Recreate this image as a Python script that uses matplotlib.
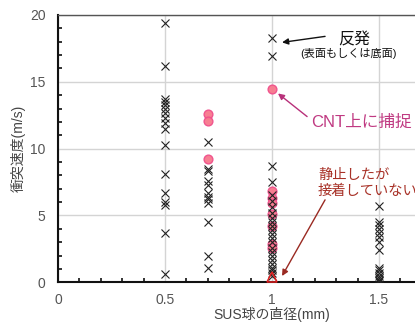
import matplotlib
matplotlib.use("Agg")
import matplotlib.pyplot as plt
from matplotlib.ticker import MultipleLocator

plt.rcParams['font.family'] = ['Liberation Sans', 'Noto Sans CJK JP', 'DejaVu Sans']

# ---- data ----
# rebound (x markers)
d05_cross = [19.4, 16.2, 13.7, 13.5, 13.3, 13.0, 12.7, 12.3, 11.9, 11.5, 10.3,
             8.1, 6.7, 6.0, 5.8, 3.7, 0.6]
d07_cross = [10.5, 8.5, 8.3, 7.6, 7.3, 6.7, 6.4, 6.2, 5.9, 4.5, 2.0, 1.1]
d10_cross = [18.3, 16.9, 8.7, 7.5, 6.5, 6.1, 5.6, 5.2, 4.8, 4.5, 4.2, 3.9, 3.6,
             3.3, 3.0, 2.6, 2.3, 2.0, 1.7, 1.4, 1.1, 0.9, 0.7, 0.5]
d15_cross = [5.7, 4.5, 4.3, 4.0, 3.7, 3.4, 3.0, 2.4, 1.1, 0.9, 0.7, 0.5, 0.35, 0.2, 0.1]
# captured on CNT (pink circles)
d07_pink = [12.6, 12.1, 9.2]
d10_pink = [14.5, 6.8, 6.3, 5.9, 5.1, 4.2, 2.9, 2.6]
# stopped but not adhered (triangle)
d10_tri = [0.4]

diam_cross = {0.5: d05_cross, 0.7: d07_cross, 1.0: d10_cross, 1.5: d15_cross}
diam_pink = {0.7: d07_pink, 1.0: d10_pink}
diam_tri = {1.0: d10_tri}

xticks = [0, 0.5, 1, 1.5]
xticklabels = ["0", "0.5", "1", "1.5"]
yticks = [0, 5, 10, 15, 20]
yticklabels = ["0", "5", "10", "15", "20"]

W, H = 415, 324
fig = plt.figure(figsize=(W / 100, H / 100), dpi=100)
left_px, bottom_px, top_px = 58, 282.3, 15
px_per_unit = 214
ax = fig.add_axes([left_px / W, (H - bottom_px) / H, 2 * px_per_unit / W, (bottom_px - top_px) / H])

for d, vals in diam_pink.items():
    ax.plot([d] * len(vals), vals, 'o', ms=6.3, mfc='#f7788c', mec='#f0508c', mew=1.0,
            linestyle='none', zorder=3, alpha=0.95)
for d, vals in diam_cross.items():
    ax.plot([d] * len(vals), vals, 'x', ms=5.2, mec='#222222', mew=0.8,
            linestyle='none', zorder=4)
for d, vals in diam_tri.items():
    ax.plot([d] * len(vals), vals, '^', ms=6.5, mfc='none', mec='#e02020', mew=1.1,
            linestyle='none', zorder=5)

ax.set_xlim(0, 2)
ax.set_ylim(0, 20)
ax.set_xticks(xticks)
ax.set_xticklabels(xticklabels)
ax.set_yticks(yticks)
ax.set_yticklabels(yticklabels)
ax.xaxis.set_minor_locator(MultipleLocator(0.1))
ax.yaxis.set_minor_locator(MultipleLocator(1))
ax.tick_params(axis='both', which='major', direction='in', length=0, labelsize=10,
               labelcolor='#555555', pad=7)
ax.tick_params(axis='both', which='minor', direction='in', length=3, width=1.2, color='#111111')
ax.tick_params(axis='x', which='major', pad=8)
ax.tick_params(axis='y', which='major', pad=9)
ax.grid(True, which='major', color='#d4d4d4', lw=1.0)
ax.set_axisbelow(True)

ax.spines['right'].set_visible(False)
ax.spines['top'].set_color('#555555')
ax.spines['top'].set_linewidth(1.0)
for s in ['left', 'bottom']:
    ax.spines[s].set_color('#111111')
    ax.spines[s].set_linewidth(1.5)

fig.text(272 / W, 1 - 314 / H, "SUS球の直径(mm)", ha='center', va='center',
         fontsize=10, color='#444444')
fig.text(18 / W, 1 - 148 / H, "衝突速度(m/s)", ha='center', va='center',
         rotation=90, fontsize=10, color='#444444')

# annotations
ax.annotate("", xy=(1.047, 17.95), xytext=(1.248, 18.4),
            arrowprops=dict(arrowstyle='-|>', color='#111111', lw=1.0, mutation_scale=9,
                            shrinkA=0, shrinkB=0))
ax.text(1.308, 18.17, "反発", fontsize=11.5, color='#111111', ha='left', va='center')
ax.text(1.131, 17.13, "(表面もしくは底面)", fontsize=8, color='#111111', ha='left', va='center')

ax.annotate("", xy=(1.028, 14.13), xytext=(1.164, 12.4),
            arrowprops=dict(arrowstyle='-|>', color='#b8307a', lw=1.0, mutation_scale=9,
                            shrinkA=0, shrinkB=0))
ax.text(1.185, 11.95, "CNT上に捕捉", fontsize=12, color='#c03a82', ha='left', va='center')

ax.annotate("", xy=(1.047, 0.47), xytext=(1.248, 6.17),
            arrowprops=dict(arrowstyle='-|>', color='#9a2a22', lw=1.0, mutation_scale=9,
                            shrinkA=0, shrinkB=0))
ax.text(1.215, 7.45, "静止したが\n接着していない", fontsize=10.3, color='#a83228',
        ha='left', va='center', linespacing=1.15)

fig.savefig("out.png", dpi=100)
